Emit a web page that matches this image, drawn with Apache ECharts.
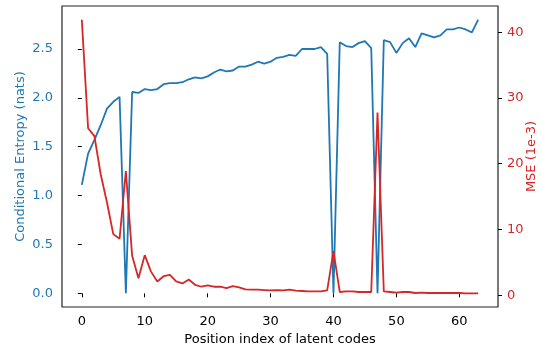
<!DOCTYPE html>
<html>
<head>
<meta charset="utf-8">
<script src="https://cdn.jsdelivr.net/npm/echarts@6/dist/echarts.min.js"></script>
<style>
  html, body { margin: 0; padding: 0; background: #fff; }
  #chart { width: 541px; height: 352px; }
</style>
</head>
<body>
<div id="chart"></div>
<script>
// conditional entropy (nats) per latent code position 0..63
const entropy = [
  1.11, 1.43, 1.57, 1.72, 1.89, 1.96, 2.01, 0.00, 2.06, 2.05,
  2.09, 2.08, 2.09, 2.14, 2.15, 2.15, 2.16, 2.19, 2.21, 2.20,
  2.22, 2.26, 2.29, 2.27, 2.28, 2.32, 2.32, 2.34, 2.37, 2.35,
  2.37, 2.41, 2.42, 2.44, 2.43, 2.50, 2.50, 2.50, 2.52, 2.45,
  0.00, 2.57, 2.53, 2.52, 2.56, 2.58, 2.51, 0.00, 2.59, 2.57,
  2.46, 2.56, 2.61, 2.52, 2.66, 2.64, 2.62, 2.64, 2.70, 2.70,
  2.72, 2.70, 2.67, 2.80
]
// reconstruction MSE (1e-3)
const mse = [
  41.9, 25.4, 24.2, 18.4, 14.1, 9.3, 8.6, 18.9, 6.0, 2.6,
  6.1, 3.6, 2.1, 2.9, 3.1, 2.1, 1.8, 2.4, 1.6, 1.3,
  1.5, 1.3, 1.3, 1.1, 1.4, 1.2, 0.9, 0.85, 0.85, 0.8,
  0.75, 0.8, 0.75, 0.85, 0.7, 0.65, 0.6, 0.6, 0.6, 0.75,
  6.7, 0.5, 0.6, 0.6, 0.5, 0.5, 0.5, 27.8, 0.6, 0.5,
  0.4, 0.5, 0.5, 0.35, 0.4, 0.35, 0.35, 0.35, 0.35, 0.35,
  0.35, 0.3, 0.3, 0.3
]
const xTicks = [0, 10, 20, 30, 40, 50, 60]
const leftTicks = [0, 0.5, 1.0, 1.5, 2.0, 2.5]
const rightTicks = [0, 10, 20, 30, 40]

const blue = '#1f77b4'
const red = '#d62728'
const font = 'DejaVu Sans'
const fs = 13

const chart = echarts.init(document.getElementById('chart'))

const tickStyle = { show: true, inside: false, length: 4, lineStyle: { color: '#000', width: 1 } }

chart.setOption({
  backgroundColor: '#fff',
  animation: false,
  grid: {
    left: 62, right: 43, top: 6, bottom: 45,
    containLabel: false,
    outerBoundsMode: 'none',
    show: true, borderColor: '#222', borderWidth: 1.2, backgroundColor: 'transparent'
  },
  xAxis: {
    type: 'value',
    min: -3.15,
    max: 66.15,
    name: 'Position index of latent codes',
    nameLocation: 'middle',
    nameGap: 26,
    nameMoveOverlap: false,
    nameTextStyle: { color: '#000', fontFamily: font, fontSize: fs },
    axisLine: { show: false },
    axisTick: Object.assign({ customValues: xTicks }, tickStyle),
    axisLabel: { customValues: xTicks, color: '#000', fontFamily: font, fontSize: fs, margin: 8 },
    splitLine: { show: false }
  },
  yAxis: [
    {
      type: 'value',
      position: 'left',
      min: -0.14,
      max: 2.94,
      name: 'Conditional Entropy (nats)',
      nameLocation: 'middle',
      nameGap: 35,
      nameMoveOverlap: false,
      nameTextStyle: { color: blue, fontFamily: font, fontSize: fs },
      axisLine: { show: false },
      axisTick: Object.assign({ customValues: leftTicks }, tickStyle),
      axisLabel: {
        customValues: leftTicks, color: blue, fontFamily: font, fontSize: fs, margin: 9,
        formatter: v => v.toFixed(1)
      },
      splitLine: { show: false }
    },
    {
      type: 'value',
      position: 'right',
      min: -1.78,
      max: 43.98,
      name: 'MSE (1e-3)',
      nameLocation: 'middle',
      nameGap: 27,
      nameMoveOverlap: false,
      nameTextStyle: { color: red, fontFamily: font, fontSize: fs },
      axisLine: { show: false },
      axisTick: Object.assign({ customValues: rightTicks }, tickStyle),
      axisLabel: { customValues: rightTicks, color: red, fontFamily: font, fontSize: fs, margin: 9 },
      splitLine: { show: false }
    }
  ],
  series: [
    {
      name: 'Conditional Entropy',
      type: 'line',
      yAxisIndex: 0,
      data: entropy.map((v, i) => [i, v]),
      showSymbol: false,
      lineStyle: { color: blue, width: 1.8 },
      itemStyle: { color: blue }
    },
    {
      name: 'MSE',
      type: 'line',
      yAxisIndex: 1,
      data: mse.map((v, i) => [i, v]),
      showSymbol: false,
      lineStyle: { color: red, width: 1.8 },
      itemStyle: { color: red }
    }
  ]
})
</script>
</body>
</html>
